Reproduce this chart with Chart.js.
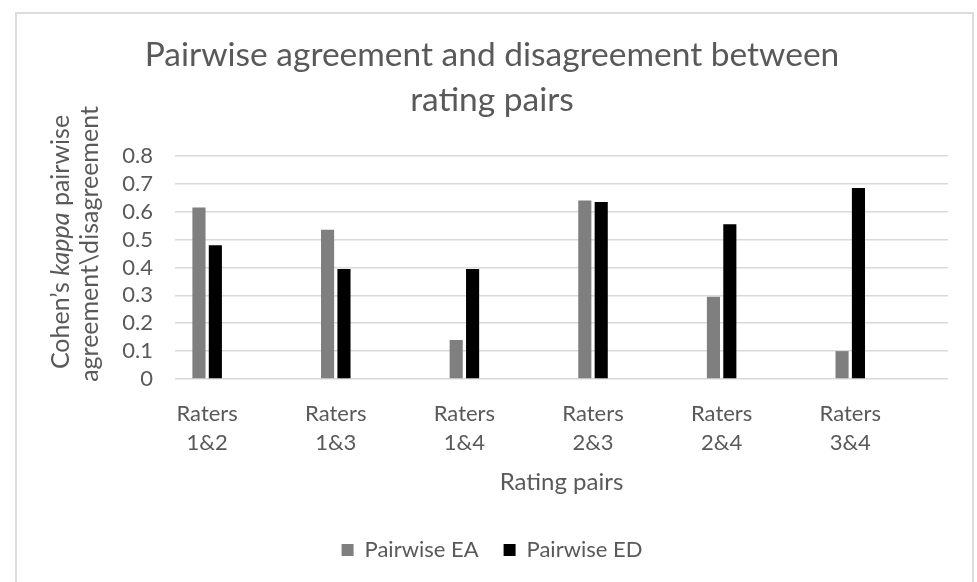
<!DOCTYPE html>
<html>
<head>
<meta charset="utf-8">
<script src="https://cdn.jsdelivr.net/npm/chart.js@4.4.1/dist/chart.umd.min.js"></script>
<style>
  html, body { margin: 0; padding: 0; background: #fff; }
  #frame { position: absolute; left: 15px; top: 12px; width: 955px; height: 600px; border: 2px solid #dcdcdc; }
  #kappaChart { position: absolute; left: 0; top: 0; }
</style>
</head>
<body>
<div id="frame"></div>
<canvas id="kappaChart" width="977" height="582"></canvas>
<script>
// rating pairs on the x axis (two-line labels)
const ratingPairs = [
    ['Raters', '1&2'],
    ['Raters', '1&3'],
    ['Raters', '1&4'],
    ['Raters', '2&3'],
    ['Raters', '2&4'],
    ['Raters', '3&4']
];
const pairwiseEA = [0.615, 0.535, 0.14, 0.64, 0.295, 0.1];
const pairwiseED = [0.48, 0.395, 0.395, 0.635, 0.555, 0.685];
const yTickLabels = ['0', '0.1', '0.2', '0.3', '0.4', '0.5', '0.6', '0.7', '0.8'];

const textGrey = '#595959';
const fontFamily = 'Lato, "Open Sans", sans-serif';

// y axis title is drawn by hand because "kappa" is in italics
const yTitlePlugin = {
    id: 'yTitle',
    afterDraw(chart) {
        const ctx = chart.ctx;
        const lines = [
            { x: 61, y: 242, parts: [['Cohen’s ', false], ['kappa', true], [' pairwise', false]] },
            { x: 90, y: 244, parts: [['agreement\\disagreement', false]] }
        ];
        ctx.save();
        ctx.fillStyle = textGrey;
        ctx.textBaseline = 'middle';
        ctx.textAlign = 'left';
        lines.forEach(line => {
            let total = 0;
            line.parts.forEach(p => {
                ctx.font = (p[1] ? 'italic ' : '') + '25px ' + fontFamily;
                total += ctx.measureText(p[0]).width;
            });
            ctx.save();
            ctx.translate(line.x, line.y);
            ctx.rotate(-Math.PI / 2);
            let cx = -total / 2;
            line.parts.forEach(p => {
                ctx.font = (p[1] ? 'italic ' : '') + '25px ' + fontFamily;
                ctx.fillText(p[0], cx, 0);
                cx += ctx.measureText(p[0]).width;
            });
            ctx.restore();
        });
        ctx.restore();
    }
};

const ctx = document.getElementById('kappaChart').getContext('2d');
const kappaChart = new Chart(ctx, {
    type: 'bar',
    data: {
        datasets: [{
            label: 'Pairwise EA',
            data: pairwiseEA.map((v, i) => ({ x: i, y: v })),
            backgroundColor: '#7f7f7f',
            borderWidth: 0
        }, {
            label: 'Pairwise ED',
            data: pairwiseED.map((v, i) => ({ x: i, y: v })),
            backgroundColor: '#000000',
            borderWidth: 0
        }]
    },
    options: {
        responsive: false,
        animation: false,
        categoryPercentage: 0.255,
        barPercentage: 0.8,
        layout: {
            padding: { top: 10, left: 36, right: 29, bottom: 11 }
        },
        scales: {
            x: {
                type: 'linear',
                offset: false,
                bounds: 'data',
                min: -0.25,
                max: 5.76,
                grid: { display: false, offset: false },
                border: { display: false },
                afterBuildTicks: (scale) => {
                    scale.ticks = ratingPairs.map((p, i) => ({ value: i }));
                },
                ticks: {
                    autoSkip: false,
                    maxRotation: 0,
                    padding: 12,
                    color: textGrey,
                    font: { family: fontFamily, size: 22, lineHeight: 1.318 },
                    callback: (value) => ratingPairs[value] || ''
                },
                title: {
                    display: true,
                    text: 'Rating pairs',
                    color: textGrey,
                    font: { family: fontFamily, size: 24 },
                    padding: { top: 0, bottom: 17 }
                },
                afterFit: (scale) => { scale.height = 135; }
            },
            y: {
                min: 0,
                max: 0.8,
                grid: { color: '#d9d9d9', lineWidth: 1.5, drawTicks: false },
                border: { display: false },
                ticks: {
                    stepSize: 0.1,
                    autoSkip: false,
                    padding: 22,
                    color: textGrey,
                    font: { family: fontFamily, size: 22 },
                    callback: (value) => yTickLabels[Math.round(value * 10)]
                },
                afterFit: (scale) => { scale.width = 139; }
            }
        },
        plugins: {
            title: {
                display: true,
                text: ['Pairwise agreement and disagreement between', 'rating pairs'],
                color: textGrey,
                font: { family: fontFamily, size: 33.5, weight: 'normal', lineHeight: 1.343 },
                padding: { top: 23, bottom: 33 }
            },
            legend: {
                position: 'bottom',
                labels: {
                    boxWidth: 12,
                    boxHeight: 12,
                    padding: 25,
                    color: textGrey,
                    font: { family: fontFamily, size: 22 }
                }
            },
            tooltip: { enabled: false }
        }
    },
    plugins: [yTitlePlugin]
});
</script>
</body>
</html>
